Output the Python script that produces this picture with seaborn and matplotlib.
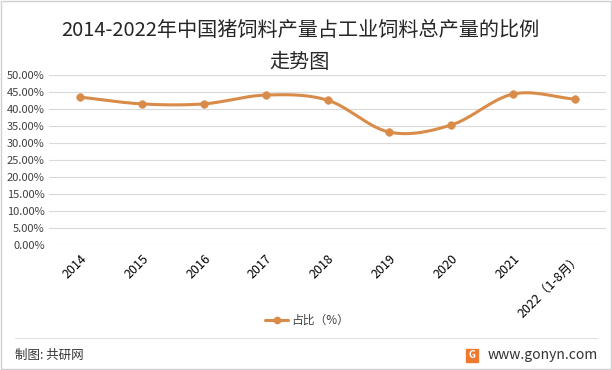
import numpy as np
import pandas as pd
import seaborn as sns
import matplotlib.pyplot as plt
from matplotlib.patches import Rectangle

years = ['2014', '2015', '2016', '2017', '2018', '2019', '2020', '2021', '2022（1-8月）']
share = [43.5, 41.5, 41.5, 44.1, 42.6, 33.2, 35.3, 44.4, 42.9]
title1 = '2014-2022年中国猪饲料产量占工业饲料总产量的比例'
title2 = '走势图'
series_name = '占比（%）'

sns.set_theme(style='white')
plt.rcParams['font.family'] = ['Noto Sans CJK SC', 'DejaVu Sans']

color = '#D98C4A'
df = pd.DataFrame({'year': years, 'share': share})
df['x'] = np.arange(len(df))

fig = plt.figure(figsize=(6.12, 3.70), dpi=100)
ax = fig.add_axes([49 / 612, 1 - 245 / 370, (606 - 49) / 612, 170 / 370])


def catmull(xs, ys, n=30):
    # smoothed line like Excel's
    px = np.concatenate([[2 * xs[0] - xs[1]], xs, [2 * xs[-1] - xs[-2]]])
    py = np.concatenate([[2 * ys[0] - ys[1]], ys, [2 * ys[-1] - ys[-2]]])
    outx, outy = [], []
    for i in range(1, len(px) - 2):
        t = np.linspace(0, 1, n)
        for p, out in ((px, outx), (py, outy)):
            p0, p1, p2, p3 = p[i - 1], p[i], p[i + 1], p[i + 2]
            out.extend(0.5 * ((2 * p1) + (-p0 + p2) * t + (2 * p0 - 5 * p1 + 4 * p2 - p3) * t ** 2
                              + (-p0 + 3 * p1 - 3 * p2 + p3) * t ** 3))
    return np.array(outx), np.array(outy)


sx, sy = catmull(df['x'].values.astype(float), df['share'].values)
ax.plot(sx, sy, color=color, lw=2.2, zorder=3)
sns.scatterplot(data=df, x='x', y='share', ax=ax, color=color, s=30, edgecolor=color, zorder=4, legend=False)

ax.set_xlim(-0.5, len(years) - 0.5)
ax.set_ylim(0, 50)
ax.set_yticks(np.arange(0, 51, 5))
ax.set_yticklabels([f'{v:.2f}%' for v in np.arange(0, 51, 5)], fontsize=8, color='#404040')
ax.set_xticks(df['x'])
ax.set_xticklabels(years, rotation=45, ha='right', rotation_mode='anchor', fontsize=9, color='black')
ax.tick_params(axis='x', pad=5, length=0)
ax.tick_params(axis='y', length=0, pad=3)
ax.yaxis.grid(True, color='#D9D9D9', lw=0.8)
for s in ax.spines.values():
    s.set_visible(False)
ax.set_xlabel('')
ax.set_ylabel('')

fig.text(0.49, 1 - 30 / 370, title1, ha='center', va='center', fontsize=14.5)
fig.text(0.49, 1 - 62 / 370, title2, ha='center', va='center', fontsize=14.5)

# legend
fig.lines.append(plt.Line2D([265 / 612, 288 / 612], [1 - 320 / 370] * 2, color=color, lw=2.2, transform=fig.transFigure))
fig.lines.append(plt.Line2D([276.5 / 612], [1 - 320 / 370], color=color, marker='o', ms=4.5, transform=fig.transFigure))
fig.text(291 / 612, 1 - 320 / 370, series_name, ha='left', va='center', fontsize=8.5, color='#404040')

# footer
fig.lines.append(plt.Line2D([15 / 612, 597 / 612], [1 - 338 / 370] * 2, color='#E0E0E0', lw=0.8, transform=fig.transFigure))
fig.text(15 / 612, 1 - 355 / 370, '制图: 共研网', ha='left', va='center', fontsize=9, color='#333333')
fig.text(598 / 612, 1 - 355 / 370, 'www.gonyn.com', ha='right', va='center', fontsize=10, color='#333333')
fig.patches.append(Rectangle((466 / 612, 1 - 362 / 370), 12 / 612, 13 / 370, color='#EE7A2F', transform=fig.transFigure))
fig.text(472 / 612, 1 - 355.5 / 370, 'G', ha='center', va='center', fontsize=7, color='white', weight='bold')
fig.patches.append(Rectangle((1 / 612, 1 / 370), 610 / 612, 368 / 370, fill=False, ec='#D0D0D0', lw=1, transform=fig.transFigure))

fig.savefig('out.png', dpi=100)
